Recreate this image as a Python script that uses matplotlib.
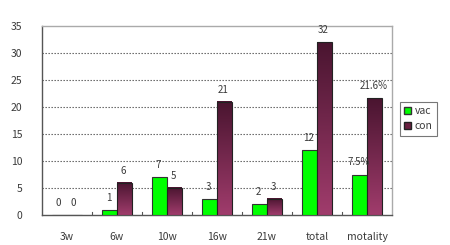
import matplotlib
matplotlib.use("Agg")
import matplotlib.pyplot as plt
import numpy as np
from matplotlib.colors import LinearSegmentedColormap
from matplotlib.patches import Patch

categories = ["3w", "6w", "10w", "16w", "21w", "total", "motality"]
vac = [0, 1, 7, 3, 2, 12, 7.5]
con = [0, 6, 5, 21, 3, 32, 21.6]
vac_labels = ["0", "1", "7", "3", "2", "12", "7.5%"]
con_labels = ["0", "6", "5", "21", "3", "32", "21.6%"]
yticks = [0, 5, 10, 15, 20, 25, 30, 35]

plt.rcParams['font.family'] = ['Noto Sans CJK KR', 'DejaVu Sans']
txtc = "#3a3a3a"

fig = plt.figure(figsize=(4.5, 2.45), dpi=100)
ax = fig.add_axes([42/450, 1-215/245, 350/450, 189/245])

x = np.arange(len(categories))
w = 0.3
b1 = ax.bar(x - w/2, vac, w, color="#00ff00", edgecolor="#333333", linewidth=0.8, zorder=3)
b2 = ax.bar(x + w/2, con, w, color="none", edgecolor="#222222", linewidth=0.8, zorder=4)

cmap = LinearSegmentedColormap.from_list("c", ["#a03c6c", "#4a1530"])
grad = np.linspace(0, 1, 100).reshape(-1, 1)
for p in b2:
    h = p.get_height()
    if h <= 0:
        continue
    x0 = p.get_x()
    ax.imshow(grad, extent=[x0, x0 + p.get_width(), 0, h], origin="lower",
              cmap=cmap, aspect="auto", zorder=3.5, interpolation="bilinear")

for i in range(len(categories)):
    ax.text(x[i] - w/2 - 0.02, vac[i] + 1.3, vac_labels[i], ha="center", va="bottom",
            fontsize=7, color=txtc, zorder=5)
    ax.text(x[i] + w/2 - 0.02, con[i] + 1.3, con_labels[i], ha="center", va="bottom",
            fontsize=7, color=txtc, zorder=5)

ax.set_xlim(-0.5, len(categories) - 0.5)
ax.set_ylim(0, 35)
ax.set_yticks(yticks)
ax.set_yticklabels([str(t) for t in yticks], fontsize=7.5, color=txtc)
for t in yticks[1:-1]:
    ax.axhline(t, color="#555555", linestyle=(0, (1.2, 1.5)), linewidth=0.8, zorder=1)

ax.set_xticks(x)
ax.set_xticklabels(categories, fontsize=7.5, color=txtc)
ax.tick_params(axis="x", length=0, pad=12)
ax.tick_params(axis="y", length=0, pad=14)
for b in np.arange(0.5, len(categories) - 0.5, 1):
    ax.plot([b, b], [0, 0.5], color="#555555", linewidth=0.8, zorder=2)

ax.spines["left"].set_color("#555555")
ax.spines["bottom"].set_color("#555555")
ax.spines["top"].set_color("#aaaaaa")
ax.spines["right"].set_color("#aaaaaa")
for s in ax.spines.values():
    s.set_linewidth(1.0)

handles = [Patch(facecolor="#00ff00", edgecolor="#333333", label="vac"),
           Patch(facecolor="#6a2040", edgecolor="#222222", label="con")]
leg = fig.legend(handles=handles, loc="upper left", bbox_to_anchor=(400/450, 1-102/245),
                 fontsize=7.5, frameon=True, fancybox=False, handlelength=0.7,
                 handleheight=0.7, handletextpad=0.3, borderpad=0.4, labelspacing=0.5,
                 borderaxespad=0)
leg.get_frame().set_edgecolor("#555555")
leg.get_frame().set_linewidth(0.8)
for t in leg.get_texts():
    t.set_color(txtc)

fig.savefig("out.png", dpi=100)
